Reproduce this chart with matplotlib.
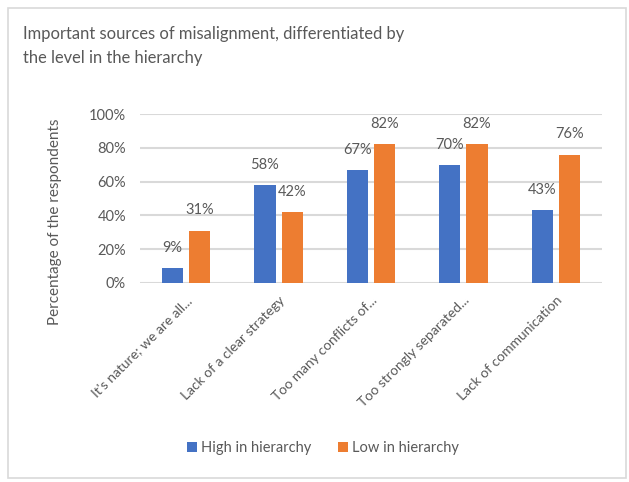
import numpy as np
import matplotlib
matplotlib.use("Agg")
from matplotlib import pyplot as plt
from matplotlib.patches import Rectangle

# data
categories = ["It's nature; we are all...", "Lack of a clear strategy",
              "Too many conflicts of...", "Too strongly separated...",
              "Lack of communication"]
high = [9, 58, 67, 70, 43]
low = [31, 42, 82, 82, 76]
series_names = ["High in hierarchy", "Low in hierarchy"]

blue = '#4472C4'
orange = '#ED7D31'
grey_txt = '#595959'

plt.rcParams['font.family'] = ['Lato', 'DejaVu Sans']

fig = plt.figure(figsize=(6.29, 4.82), dpi=100)
ax = fig.add_axes([140 / 629, 1 - 283 / 482, 462 / 629, 169 / 482])

x = np.arange(len(categories))
w = 0.23
gap = 0.065
b1 = ax.bar(x - (w + gap) / 2, high, w, color=blue, label=series_names[0], zorder=3)
b2 = ax.bar(x + (w + gap) / 2, low, w, color=orange, label=series_names[1], zorder=3)

for bars, vals in ((b1, high), (b2, low)):
    for r, v in zip(bars, vals):
        ax.annotate(f"{v}%", (r.get_x() + r.get_width() / 2, v), xytext=(0, 14.5),
                    textcoords='offset points', ha='center', va='center',
                    fontsize=10.5, color=grey_txt)

ax.set_xlim(-0.5, len(categories) - 0.5)
ax.set_ylim(0, 100)
ax.set_yticks(range(0, 101, 20))
ax.set_yticklabels([f"{t}%" for t in range(0, 101, 20)])
ax.yaxis.grid(True, color='#D9D9D9', linewidth=1.5, zorder=0)
ax.set_axisbelow(True)
for s in ax.spines.values():
    s.set_visible(False)
ax.tick_params(axis='both', length=0, labelsize=10.5, labelcolor=grey_txt)
ax.tick_params(axis='y', pad=10)
ax.set_xticks(x)
ax.set_xticklabels(categories, rotation=45, ha='right', rotation_mode='anchor')
ax.tick_params(axis='x', pad=8, labelsize=10)

fig.text(55 / 629, 1 - 222 / 482, "Percentage of the respondents", rotation=90,
         fontsize=11, color=grey_txt, ha='center', va='center')

fig.text(23 / 629, 1 - 46 / 482, "Important sources of misalignment, differentiated by\nthe level in the hierarchy",
         fontsize=11.9, color=grey_txt, ha='left', va='center', linespacing=1.65)

leg = fig.legend(loc='center', bbox_to_anchor=(323 / 629, 1 - 448 / 482), ncol=2,
                 frameon=False, fontsize=10.5, handlelength=0.7, handleheight=0.7,
                 handletextpad=0.3, columnspacing=1.8)
for t in leg.get_texts():
    t.set_color(grey_txt)

fig.patches.append(Rectangle((8 / 629, 1 - 478 / 482), 618 / 629, 470 / 482,
                             transform=fig.transFigure, fill=False,
                             edgecolor='#D9D9D9', linewidth=1.2))

fig.savefig('out.png', dpi=100)
